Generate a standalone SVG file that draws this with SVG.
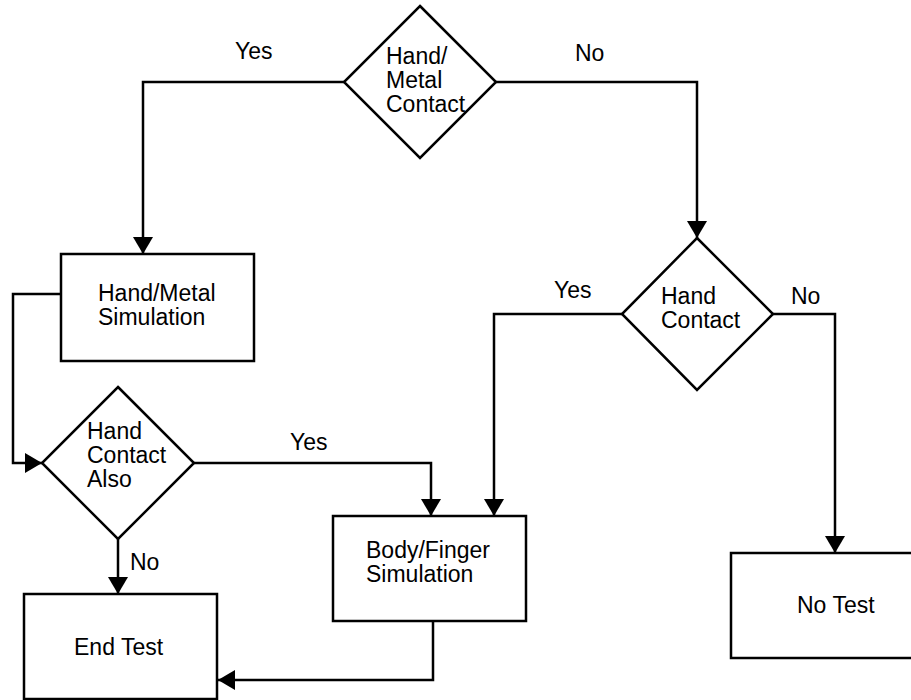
<svg xmlns="http://www.w3.org/2000/svg" width="911" height="700" viewBox="0 0 911 700">
<style>
  .shape { fill: #fff; stroke: #000; stroke-width: 2.5; }
  .conn { fill: none; stroke: #000; stroke-width: 2.5; marker-end: url(#arrow); }
  .line { fill: none; stroke: #000; stroke-width: 2.5; }
  text { font-family: "Liberation Sans", Arial, sans-serif; font-size: 23px; fill: #000; }
</style>
<defs>
  <marker id="arrow" markerUnits="userSpaceOnUse" markerWidth="20" markerHeight="20" viewBox="0 0 17 20" refX="17" refY="10" orient="auto">
    <path d="M0,0 L17,10 L0,20 Z" fill="#000"/>
  </marker>
</defs>
<rect width="911" height="700" fill="#fff"/>
<g id="connectors">
  <polyline class="conn" points="344,82 143,82 143,254"/>
  <polyline class="conn" points="496,82 697,82 697,238"/>
  <polyline class="conn" points="622,314 494,314 494,516"/>
  <polyline class="conn" points="773,314 835,314 835,553"/>
  <polyline class="conn" points="61,294 13,294 13,463 42,463"/>
  <polyline class="conn" points="194,463 431,463 431,516"/>
  <polyline class="conn" points="118,539 118,594"/>
  <polyline class="conn" points="433,621 433,680 218,680"/>
  <text x="235" y="59">Yes</text>
  <text x="575" y="61">No</text>
  <text x="554" y="298">Yes</text>
  <text x="791" y="304">No</text>
  <text x="290" y="450">Yes</text>
  <text x="130" y="570">No</text>
</g>
<g id="hand-metal-contact">
  <polygon class="shape" points="420,6 496,82 420,158 344,82"/>
  <text x="386" y="64">Hand/</text>
  <text x="386" y="88">Metal</text>
  <text x="386" y="112">Contact</text>
</g>
<g id="hand-contact">
  <polygon class="shape" points="697,238 773,314 697,390 622,314"/>
  <text x="661" y="304">Hand</text>
  <text x="661" y="328">Contact</text>
</g>
<g id="hand-metal-simulation">
  <rect class="shape" x="61" y="254" width="193" height="107"/>
  <text x="98" y="301">Hand/Metal</text>
  <text x="98" y="325">Simulation</text>
</g>
<g id="hand-contact-also">
  <polygon class="shape" points="118,387 194,463 118,539 42,463"/>
  <text x="87" y="439">Hand</text>
  <text x="87" y="463">Contact</text>
  <text x="87" y="487">Also</text>
</g>
<g id="body-finger-simulation">
  <rect class="shape" x="333" y="516" width="193" height="105"/>
  <text x="366" y="558">Body/Finger</text>
  <text x="366" y="582">Simulation</text>
</g>
<g id="no-test">
  <rect class="shape" x="731" y="553" width="208" height="105"/>
  <text x="797" y="613">No Test</text>
</g>
<g id="end-test">
  <rect class="shape" x="24" y="594" width="193" height="105"/>
  <text x="74" y="655">End Test</text>
</g>
</svg>
